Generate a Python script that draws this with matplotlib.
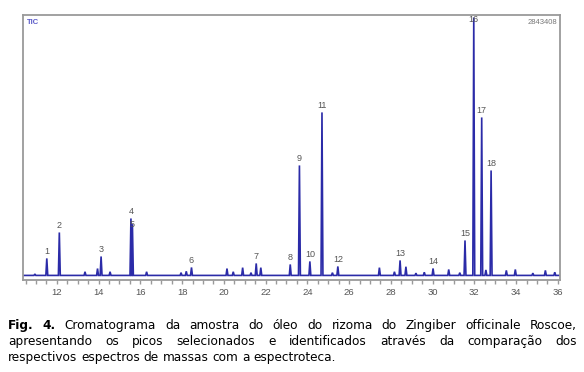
import numpy as np
import matplotlib
matplotlib.use("Agg")
from matplotlib import pyplot as plt

# retention time (min) and TIC counts of the numbered peaks
peak_labels = ['1', '2', '3', '4', '5', '6', '7', '8', '9', '10',
               '11', '12', '13', '14', '15', '16', '17', '18']
peak_times = [11.52, 12.12, 14.12, 15.55, 15.62, 18.45, 21.55, 23.18, 23.62,
              24.12, 24.70, 25.46, 28.44, 30.02, 31.55, 31.97, 32.35, 32.80]
peak_heights = [186e3, 469e3, 207e3, 622e3, 560e3, 87e3, 131e3, 120e3, 1201e3,
                153e3, 1780e3, 98e3, 164e3, 76e3, 382e3, 2816e3, 1725e3, 1146e3]

# small unlabelled peaks on the baseline
minor_times = [10.95, 13.35, 13.95, 14.55, 16.3, 17.95, 18.2, 20.15, 20.45,
               20.9, 21.3, 21.77, 25.2, 27.45, 28.17, 28.72, 29.2, 29.6,
               30.77, 31.3, 32.55, 33.53, 33.96, 34.8, 35.4, 35.85]
minor_heights = [15e3, 40e3, 75e3, 40e3, 40e3, 30e3, 45e3, 75e3, 40e3,
                 85e3, 30e3, 85e3, 30e3, 85e3, 40e3, 95e3, 25e3, 35e3,
                 65e3, 30e3, 60e3, 55e3, 65e3, 25e3, 55e3, 35e3]

tic_max = 2843408
t_start, t_end = 10.38, 36.1

caption = [
    "Fig. 4. Cromatograma da amostra do óleo do rizoma do Zingiber officinale Roscoe,",
    "apresentando os picos selecionados e identificados através da comparação dos",
    "respectivos espectros de massas com a espectroteca.",
]

trace_color = '#2b2ba8'
gray = '#9a9a9a'

fig = plt.figure(figsize=(5.84, 3.72), dpi=100)
W, H = 584, 372
ax = fig.add_axes([23 / W, 1 - 280 / H, (560 - 23) / W, 265 / H])

# build the trace: narrow triangle for each peak, flat baseline between
times = np.array(peak_times + minor_times)
heights = np.array(peak_heights + minor_heights)
order = np.argsort(times)
hw = 0.045
xs, ys = [t_start], [0.0]
for t, h in zip(times[order], heights[order]):
    xs += [t - hw, t, t + hw]
    ys += [0.0, h, 0.0]
xs.append(t_end)
ys.append(0.0)
ax.plot(xs, ys, color=trace_color, lw=1.2, solid_joinstyle='miter')

ax.set_xlim(t_start, t_end)
ax.set_ylim(-50000, tic_max)

# peak numbers
top_cap = 2745000
for lab, t, h in zip(peak_labels, peak_times, peak_heights):
    if lab == '5':
        # sits on the shoulder of peak 4, just under its number
        ax.text(t, h - 5000, lab, ha='center', va='center', fontsize=6.5,
                color='#555555', family='Liberation Sans')
        continue
    y = min(h + 22000, top_cap)
    ax.text(t, y, lab, ha='center', va='bottom', fontsize=6.5,
            color='#555555', family='Liberation Sans')

ax.text(0.008, 0.985, 'TIC', transform=ax.transAxes, ha='left', va='top',
        fontsize=5.5, color='#5a5ac8', fontweight='bold', family='Liberation Sans')
ax.text(0.995, 0.985, str(tic_max), transform=ax.transAxes, ha='right', va='top',
        fontsize=5.5, color='#777777', family='Liberation Sans')

for s in ax.spines.values():
    s.set_color(gray)
    s.set_linewidth(1.3)
ax.set_yticks([])
ax.set_xticks(np.arange(12, 37, 2))
ax.set_xticks(np.arange(10.5, 36.1, 0.5), minor=True)
ax.tick_params(axis='x', which='both', direction='out', color=gray, width=1)
ax.tick_params(axis='x', which='major', length=3, labelsize=6.8,
               labelcolor='#555555', pad=3)
ax.tick_params(axis='x', which='minor', length=3)
for lbl in ax.get_xticklabels():
    lbl.set_family('Liberation Sans')

# justified caption below the chart
fig.canvas.draw()
renderer = fig.canvas.get_renderer()
left_px, right_px = 8, 577
baselines = [329, 345, 361]
cap_size = 8.7


def word_width(word, weight):
    t = fig.text(0, 0, word, fontsize=cap_size, fontweight=weight)
    w = t.get_window_extent(renderer).width
    t.remove()
    return w


for i, line in enumerate(caption):
    words = line.split(' ')
    weights = ['bold' if (i == 0 and k < 2) else 'normal' for k in range(len(words))]
    widths = [word_width(w, wt) for w, wt in zip(words, weights)]
    if i < len(caption) - 1:
        gap = (right_px - left_px - sum(widths)) / (len(words) - 1)
    else:
        gap = word_width('a a', 'normal') - 2 * word_width('a', 'normal')
    x = left_px
    y = 1 - baselines[i] / H
    for w, wt, ww in zip(words, weights, widths):
        fig.text(x / W, y, w, fontsize=cap_size, fontweight=wt,
                 color='black', va='baseline', ha='left')
        x += ww + gap

fig.savefig('out.png', dpi=100)
